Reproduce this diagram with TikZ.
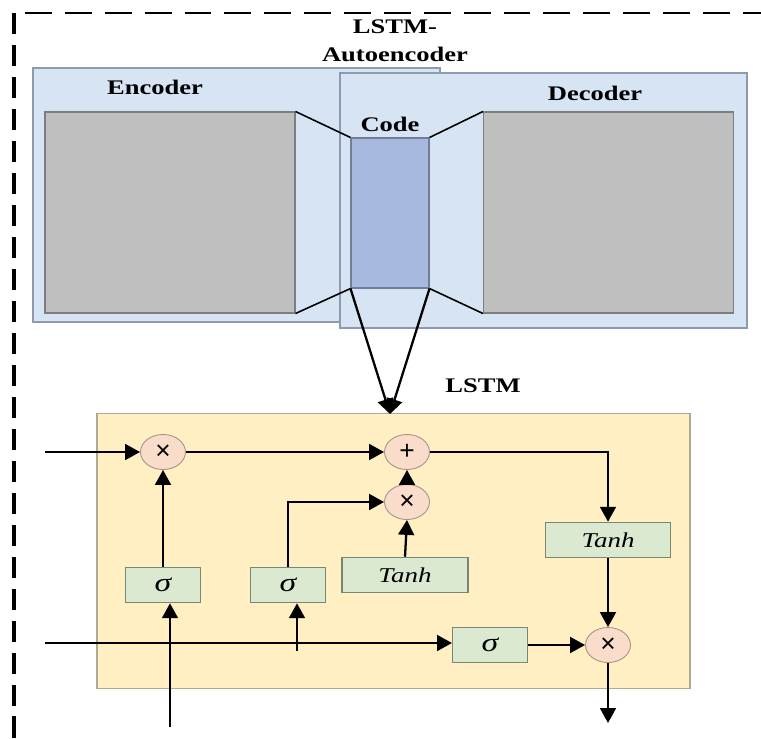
\documentclass[tikz,border=0pt]{standalone}
\usepackage{fontspec}
\setmainfont{Liberation Serif}[FakeStretch=1.28]
\newfontfamily\opfont{Liberation Sans}
\usetikzlibrary{shapes.geometric,arrows.meta}

\definecolor{panelfill}{RGB}{214,228,243}
\definecolor{panelline}{RGB}{140,155,175}
\definecolor{layerfill}{RGB}{191,191,191}
\definecolor{layerline}{RGB}{125,125,125}
\definecolor{codefill}{RGB}{168,185,224}
\definecolor{codeline}{RGB}{115,125,150}
\definecolor{cellfill}{RGB}{255,239,195}
\definecolor{cellline}{RGB}{175,168,148}
\definecolor{gatefill}{RGB}{250,220,203}
\definecolor{gateline}{RGB}{165,145,135}
\definecolor{actfill}{RGB}{218,233,208}
\definecolor{actline}{RGB}{120,135,115}

\begin{document}
\begin{tikzpicture}[x=0.02cm, y=-0.02cm,
    panel/.style={fill=panelfill, draw=panelline, line width=0.7pt},
    layer/.style={fill=layerfill, draw=layerline, line width=0.6pt, inner sep=0,
      minimum width=5cm, minimum height=4.02cm},
    title/.style={font=\bfseries\fontsize{11.8}{15.9}\selectfont},
    gate/.style={ellipse, fill=gatefill, draw=gateline, line width=0.5pt, inner sep=0,
      minimum width=0.9cm, minimum height=0.7cm, font=\opfont\fontsize{15}{15}\selectfont},
    act/.style={fill=actfill, draw=actline, line width=0.6pt, inner sep=0,
      minimum height=0.71cm, font=\itshape\fontsize{12}{14}\selectfont},
    sig/.style={act, minimum width=1.5cm, font=\itshape\fontsize{15}{15}\selectfont},
    flow/.style={line width=1.3pt, -{Triangle[width=9pt,length=8.5pt]}}]
  \useasboundingbox (0,0) rectangle (761,738);
  % outer frame (top and left only)
  \draw [line width=1.6pt, dash pattern=on 15.3pt off 7.4pt] (25,13) -- (761,13);
  \draw [line width=1.8pt, dash pattern=on 12pt off 6.2pt] (14,13) -- (14,738);
  \node [title, align=center] (aetitle) at (395,41) {LSTM-\\Autoencoder};
  % encoder and decoder panels
  \draw [panel] (33,68) rectangle (440,322);
  \draw [panel] (340,73) rectangle (747,328);
  \node [title] (enctitle) at (155,87) {Encoder};
  \node [title] (dectitle) at (595,93) {Decoder};
  \node [title] (codetitle) at (390,124) {Code};
  \node [layer] (enc) at (170,212.5) {};
  \node [layer] (dec) at (608.5,212.5) {};
  \node [fill=codefill, draw=codeline, line width=0.6pt, inner sep=0,
    minimum width=1.56cm, minimum height=3cm] (code) at (390,213) {};
  % bottleneck edges
  \draw [line width=0.9pt] (enc.north east) -- (code.north west);
  \draw [line width=0.9pt] (enc.south east) -- (code.south west);
  \draw [line width=0.9pt] (dec.north west) -- (code.north east);
  \draw [line width=0.9pt] (dec.south west) -- (code.south east);
  % lstm cell
  \node [fill=cellfill, draw=cellline, line width=0.7pt, inner sep=0,
    minimum width=11.86cm, minimum height=5.5cm] (cell) at (393.5,551) {};
  \node [title] (celltitle) at (483,386) {LSTM};
  \coordinate (cellin) at (390,414);
  \draw [flow] (code.south west) -- (cellin);
  \draw [flow] (code.south east) -- (cellin);
  % gates
  \node [gate] (forget) at (163,452) {×};
  \node [gate] (add) at (407,452) {+};
  \node [gate] (input) at (407,502) {×};
  \node [gate] (output) at (608,645) {×};
  % activations
  \node [sig] (sig1) at (163,585) {σ};
  \node [sig] (sig2) at (288,585) {σ};
  \node [act, minimum width=2.52cm] (tanh1) at (405,575) {Tanh};
  \node [act, minimum width=2.5cm] (tanh2) at (608,540) {Tanh};
  \node [sig] (sig3) at (490,645) {σ};
  % free ends
  \coordinate (cin) at (45,452);
  \coordinate (hin) at (45,643);
  \coordinate (xin) at (170,727);
  \coordinate (sin) at (297,651);
  \coordinate (hout) at (608,723);
  % connections
  \draw [flow] (cin) -- (forget);
  \draw [flow] (forget) -- (add);
  \draw [flow] (sig1) -- (forget);
  \draw [flow] (xin) -- (xin |- sig1.south);
  \draw [flow] (hin) -- (sig3.west |- hin);
  \draw [flow] (sin) -- (sin |- sig2.south);
  \draw [flow] (sig2.north) |- (input.west);
  \draw [flow] (tanh1.north) -- (input.south);
  \draw [flow] (input) -- (add);
  \draw [flow] (add.east) -| (tanh2.north);
  \draw [flow] (tanh2) -- (output);
  \draw [flow] (sig3) -- (output);
  \draw [flow] (output) -- (hout);
\end{tikzpicture}
\end{document}
